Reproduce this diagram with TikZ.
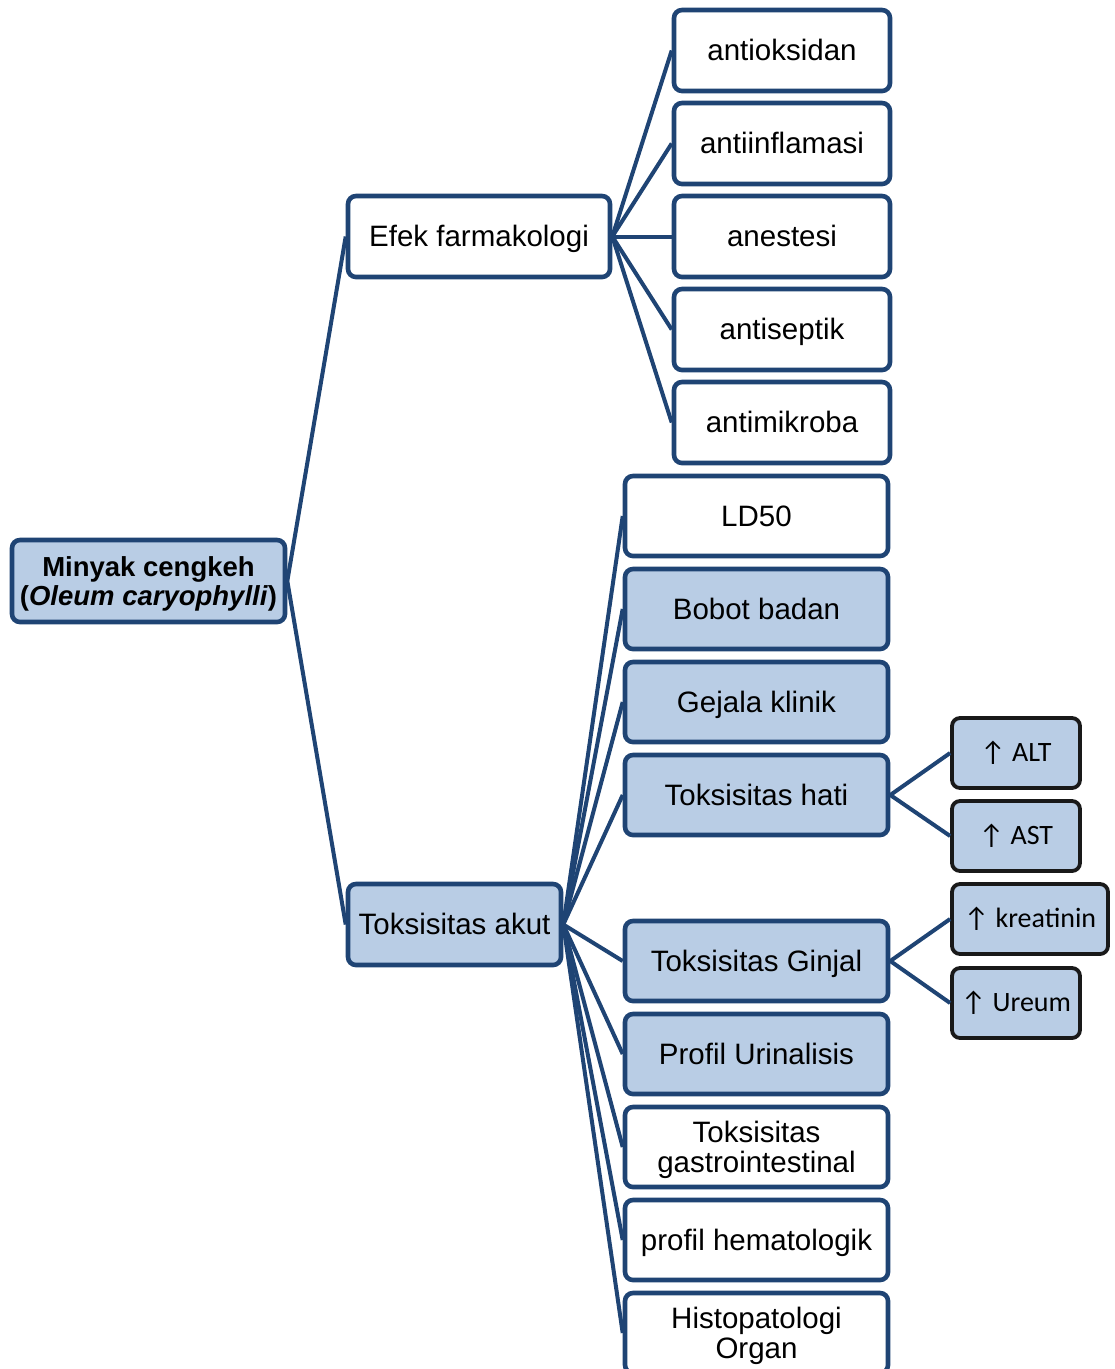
\documentclass[tikz,border=0pt]{standalone}
\usepackage{fontspec}
\setmainfont{Liberation Sans}
\newfontfamily\calfont{Carlito}
\usetikzlibrary{positioning}
\definecolor{boxline}{RGB}{31,68,116}
\definecolor{boxfill}{RGB}{185,205,229}

\begin{document}
\begin{tikzpicture}[x=1pt, y=-1pt, line width=4pt,
  box/.style={draw=boxline, rounded corners=8pt, line width=4.6pt, inner sep=0pt, align=center,
    text height=25pt, text depth=5pt, font=\fontsize{29.5}{30}\selectfont},
  twoline/.style={text height=55pt, text depth=5pt},
  plain/.style={box, fill=white},
  blue/.style={box, fill=boxfill},
  tag/.style={draw=black!90, fill=boxfill, rounded corners=8pt, line width=3.8pt,
    inner sep=0pt, minimum height=70pt, font=\calfont\fontsize{28}{30}\selectfont},
  link/.style={draw=boxline, line width=4pt}]
  \useasboundingbox (0,0) rectangle (1115,1369);
  % root and first level
  \node [blue, minimum width=273pt, minimum height=82pt, text height=53pt, text depth=5pt,
    font=\bfseries\fontsize{27.5}{29}\selectfont]
    (root) at (148.5,581) {Minyak cengkeh\\(\textit{Oleum caryophylli})};
  \node [plain, minimum width=262pt, minimum height=81pt] (efek) at (479,236.5) {Efek farmakologi};
  \node [blue, minimum width=213pt, minimum height=81pt] (akut) at (454.5,924.5) {Toksisitas akut};
  % effects
  \foreach \name/\txt/\ypos in {oks/antioksidan/50.5, inf/antiinflamasi/143.5, ane/anestesi/236.5,
      sep/antiseptik/329.5, mik/antimikroba/422.5}
    \node [plain, minimum width=216pt, minimum height=81pt] (\name) at (782,\ypos) {\txt};
  % toxicity
  \node [plain, minimum width=263pt, minimum height=80pt] (ld) at (756.5,516) {LD50};
  \node [blue, minimum width=263pt, minimum height=80pt] (bobot) at (756.5,609) {Bobot badan};
  \node [blue, minimum width=263pt, minimum height=80pt] (gejala) at (756.5,702) {Gejala klinik};
  \node [blue, minimum width=263pt, minimum height=80pt] (hati) at (756.5,795) {Toksisitas hati};
  \node [blue, minimum width=263pt, minimum height=80pt] (ginjal) at (756.5,961) {Toksisitas Ginjal};
  \node [blue, minimum width=263pt, minimum height=80pt] (urin) at (756.5,1054) {Profil Urinalisis};
  \node [plain, twoline, minimum width=263pt, minimum height=80pt] (gastro) at (756.5,1147) {Toksisitas\\gastrointestinal};
  \node [plain, minimum width=263pt, minimum height=80pt] (hema) at (756.5,1240) {profil hematologik};
  \node [plain, twoline, minimum width=263pt, minimum height=80pt] (histo) at (756.5,1333) {Histopatologi\\Organ};
  % markers
  \node [tag, minimum width=128pt] (alt) at (1016,753) {↑ ALT};
  \node [tag, minimum width=128pt] (ast) at (1016,836) {↑ AST};
  \node [tag, minimum width=156pt] (kre) at (1030,919) {↑ kreatinin};
  \node [tag, minimum width=128pt] (ure) at (1016,1003) {↑ Ureum};
  % connectors
  \path [link] (root.east) edge (efek.west) (root.east) edge (akut.west);
  \foreach \name in {oks,inf,ane,sep,mik}
    \path [link] (efek.east) edge (\name.west);
  \foreach \name in {ld,bobot,gejala,hati,ginjal,urin,gastro,hema,histo}
    \path [link] (akut.east) edge (\name.west);
  \path [link] (hati.east) edge (alt.west) (hati.east) edge (ast.west);
  \path [link] (ginjal.east) edge (kre.west) (ginjal.east) edge (ure.west);
\end{tikzpicture}
\end{document}
